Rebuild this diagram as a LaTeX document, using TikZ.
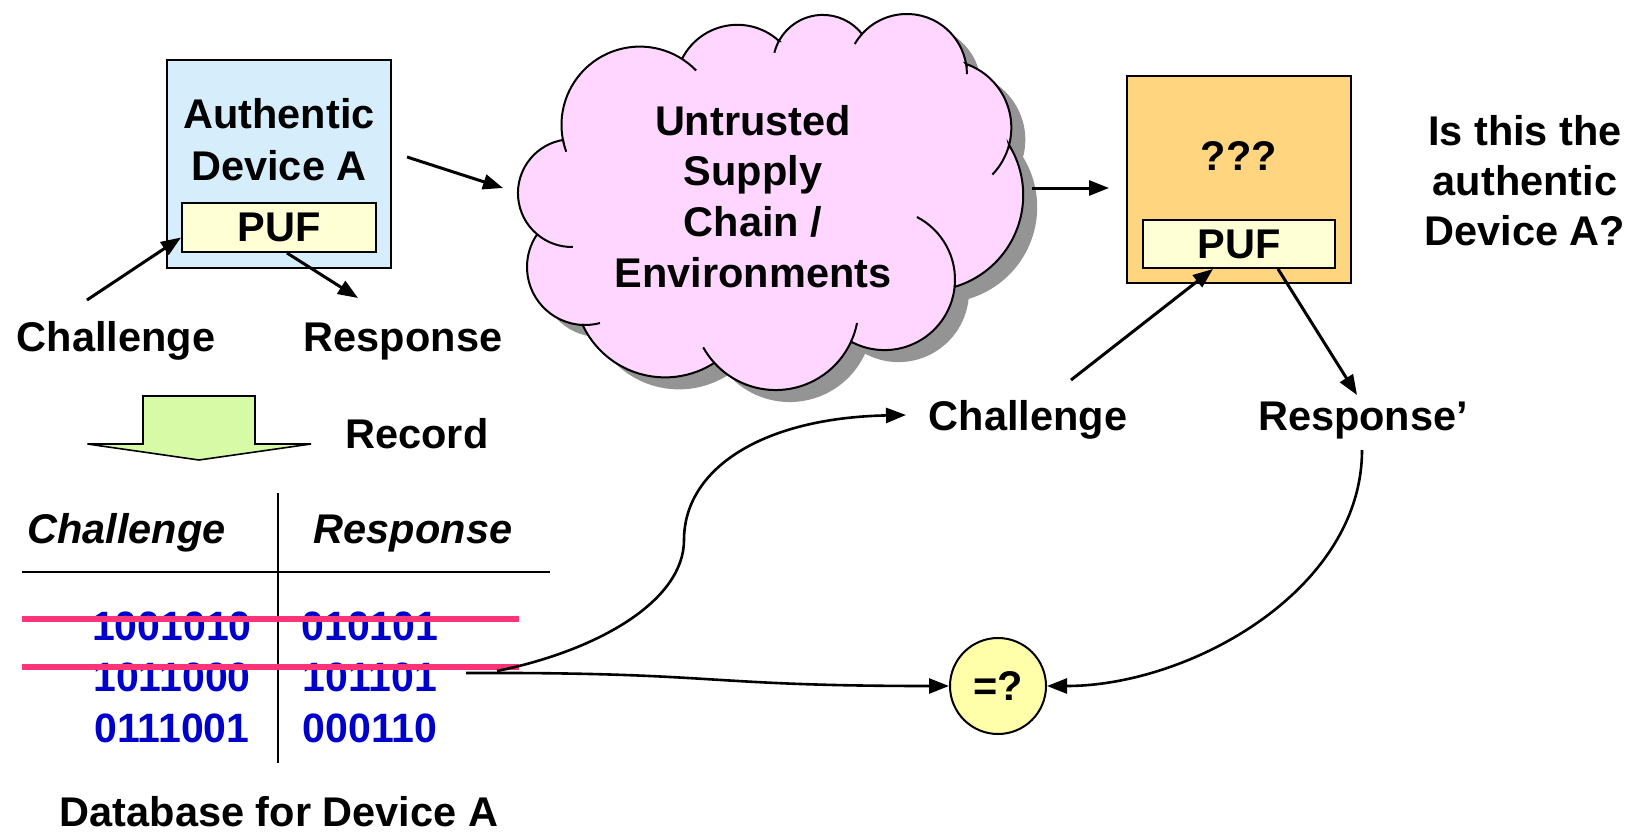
\documentclass[tikz,border=0pt]{standalone}
\usepackage{fontspec}
\setmainfont{Liberation Sans}
\newfontfamily\numfont{Liberation Sans}
\usetikzlibrary{arrows.meta,calc}
\definecolor{boxblue}{RGB}{214,238,252}
\definecolor{pufyellow}{RGB}{255,255,213}
\definecolor{boxorange}{RGB}{255,213,128}
\definecolor{cloudpink}{RGB}{255,214,255}
\definecolor{shadowgray}{RGB}{148,148,148}
\definecolor{numblue}{RGB}{0,0,204}
\definecolor{strikepink}{RGB}{255,51,119}
\definecolor{arrowgreen}{RGB}{214,250,165}
\definecolor{eqyellow}{RGB}{255,255,170}
\newcommand\cloudpath{%
 ([shift={(639.8,124.9)}]168.9:78.3) arc[start angle=168.9,end angle=302.6,radius=78.3]
 -- ([shift={(737.3,86.7)}]206.6:61.9) arc[start angle=206.6,end angle=312.4,radius=61.9]
 -- ([shift={(822.8,64.8)}]208.5:49.9) arc[start angle=208.5,end angle=321.8,radius=49.9]
 -- ([shift={(906.8,74.05)}]221.8:60.1) arc[start angle=221.8,end angle=350.4,radius=60.1]
 -- ([shift={(943.8,127.7)}]289.2:67.5) arc[start angle=289.2,end angle=374.9,radius=67.5]
 -- ([shift={(927.5,195.1)}]328.4:95.7) arc[start angle=328.4,end angle=433.5,radius=95.7]
 -- ([shift={(884.5,279.6)}]5.9:70.5) arc[start angle=5.9,end angle=117.5,radius=70.5]
 -- ([shift={(775.7,307.2)}]24.5:82.85) arc[start angle=24.5,end angle=137.6,radius=82.85]
 -- ([shift={(665,286.5)}]57.4:90.9) arc[start angle=57.4,end angle=155,radius=90.9]
 -- ([shift={(585,267)}]92.4:58) arc[start angle=92.4,end angle=212.3,radius=58]
 -- ([shift={(571.85,193.1)}]129.9:53.9) arc[start angle=129.9,end angle=260.5,radius=53.9]
 -- cycle}
\newcommand\cloudtick[5]{\draw[cloudline] ([shift={(#1)}]#3:#2) arc[start angle=#3,end angle=#4,radius=#2];}
\begin{document}
\begin{tikzpicture}[x=0.5pt,y=-0.5pt,
  txt/.style={font=\fontsize{20.75}{25}\selectfont\bfseries, inner sep=0pt, anchor=base},
  hdr/.style={font=\fontsize{20.75}{24}\selectfont\bfseries\itshape, inner sep=0pt, anchor=base},
  num/.style={font=\numfont\fontsize{20.5}{24}\selectfont\bfseries, text=numblue, inner sep=0pt, anchor=base},
  boxline/.style={draw=black, line width=1pt, inner sep=0pt},
  pufbox/.style={draw=black, line width=1pt, fill=pufyellow, inner sep=0pt, font=\fontsize{20.75}{24}\selectfont\bfseries},
  arr/.style={line width=1.5pt, -{Triangle[length=10pt,width=7.5pt]}},
  curvearr/.style={line width=1.3pt, -{Triangle[length=10pt,width=7.5pt]}},
  cloudline/.style={line width=1pt},
]
\useasboundingbox (0,0) rectangle (1637,835);

% authentic device
\node[boxline, fill=boxblue, minimum width=112pt, minimum height=104pt] (devA) at (279,164) {};
\node[txt, align=center, font=\fontsize{20.75}{26}\selectfont\bfseries] (devAtxt) at (279,180) {Authentic\\Device A};
\node[pufbox, minimum width=97pt, minimum height=24.5pt] (pufL) at (279,227.5) {PUF};
\node[txt] (chL) at (116,351) {Challenge};
\node[txt] (reL) at (403,351) {Response};
\coordinate (chLs) at (87,300);
\coordinate (reLe) at (358,298);
\draw[arr] (chLs) -- ([yshift=-5pt]pufL.west);
\draw[arr] ([xshift=4pt]pufL.south) -- (reLe);

% cloud
\begin{scope}[shift={(14,12)}]
\fill[shadowgray] \cloudpath;
\end{scope}
\filldraw[fill=cloudpink, cloudline] \cloudpath;
\cloudtick{639.8,124.9}{78.3}{168.9}{160}{}
\cloudtick{639.8,124.9}{78.3}{302.6}{316}{}
\cloudtick{822.8,64.8}{49.9}{208.5}{194}{}
\cloudtick{906.8,74.05}{60.1}{221.8}{210}{}
\cloudtick{906.8,74.05}{60.1}{350.4}{360}{}
\cloudtick{943.8,127.7}{67.5}{374.9}{404}{}
\cloudtick{884.5,279.6}{70.5}{5.9}{-62.6}{}
\cloudtick{775.7,307.2}{82.85}{24.5}{11}{}
\cloudtick{775.7,307.2}{82.85}{137.6}{151}{}
\cloudtick{585,267}{58}{92.4}{75}{}
\cloudtick{571.85,193.1}{53.9}{129.9}{88.8}{}
\node[txt, align=center, font=\fontsize{20.75}{25.3}\selectfont\bfseries] (cloudtxt) at (753,287) {Untrusted\\Supply\\Chain /\\Environments};
\coordinate (toCloudS) at (407,157);
\coordinate (toCloudE) at (503,188);
\draw[arr] (toCloudS) -- (toCloudE);

% unknown device
\node[boxline, fill=boxorange, minimum width=112pt, minimum height=103.5pt] (devX) at (1239,179.5) {};
\node[txt] (qm) at (1239,170) {???};
\node[pufbox, minimum width=96pt, minimum height=24pt] (pufR) at (1239,244) {PUF};
\coordinate (fromCloud) at (1032,188);
\draw[arr, shorten >=8.5pt] (fromCloud) -- (fromCloud -| devX.west);
\node[txt, align=center] (question) at (1525,245) {Is this the\\authentic\\Device A?};
\node[txt] (chR) at (1028,430) {Challenge};
\node[txt] (reR) at (1363,430) {Response’};
\coordinate (chRs) at (1071,380);
\coordinate (reRe) at (1357,395);
\draw[arr] (chRs) -- ([xshift=-13pt]pufR.south);
\draw[arr] ([xshift=19.5pt]pufR.south) -- (reRe);

% record arrow
\draw[line width=0.8pt, fill=arrowgreen] (143,396) -- (255,396) -- (255,444) -- (311,444) -- (199,460) -- (87.5,444) -- (143,444) -- cycle;
\node[txt, anchor=base west] (rec) at (345,448) {Record};

% table
\draw[line width=1pt] (278,493) -- (278,763);
\draw[line width=1pt] (22,572) -- (550,572);
\node[hdr] (hc) at (126.5,543) {Challenge};
\node[hdr] (hr) at (413,543) {Response};
\node[num] (c1) at (172,640) {1001010};
\node[num] (r1) at (370,640) {010101};
\node[num] (c2) at (172,691) {1011000};
\node[num] (r2) at (370,691) {101101};
\node[num] (c3) at (172,742) {0111001};
\node[num] (r3) at (370,742) {000110};
\draw[strikepink, line width=3pt] (22,619) -- (519,619);
\draw[strikepink, line width=3pt] (22,667) -- (519,667);
\node[txt] (dbl) at (279,826) {Database for Device A};

% comparison
\node[draw, line width=1pt, fill=eqyellow, circle, minimum size=48pt, inner sep=0pt, font=\fontsize{20.75}{24}\selectfont\bfseries] (eq) at (998,686) {=?};
\coordinate (db1) at (466,673);
\coordinate (db2) at (497,671);
\coordinate (chRin) at (906,415);
\coordinate (reRout) at (1362,450);
\draw[curvearr] (db2) .. controls (600,650) and (684,600) .. (684,540) .. controls (684,470) and (760,418) .. (chRin);
\draw[curvearr] (db1) .. controls (720,672) and (700,686) .. (eq.west);
\draw[curvearr] (reRout) .. controls (1362,590) and (1190,686) .. (eq.east);
\end{tikzpicture}
\end{document}
